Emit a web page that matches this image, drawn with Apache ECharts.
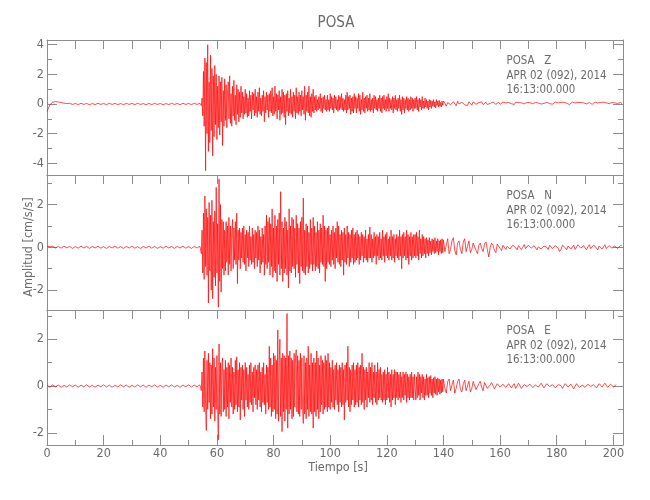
<!DOCTYPE html>
<html><head><meta charset="utf-8">
<script src="https://cdn.jsdelivr.net/npm/echarts@6/dist/echarts.min.js"></script>
<style>html,body{margin:0;padding:0;background:#fff}#c{width:650px;height:500px}</style>
</head><body><div id="c"></div>
<script>
// ---------- text ----------
const chartTitle = 'POSA';
const stationLabels = ['POSA   Z', 'POSA   N', 'POSA   E'];
const dateLabel = 'APR 02 (092), 2014';
const timeLabel = '16:13:00.000';
const xName = 'Tiempo [s]';
const yName = 'Amplitud [cm/s/s]';

// ---------- axes / ticks ----------
const xMax = 203.4;
const xTickMajor = [0, 20, 40, 60, 80, 100, 120, 140, 160, 180, 200];
const xTickMinor = [10, 30, 50, 70, 90, 110, 130, 150, 170, 190];
const xTickTop = [10, 20, 30, 40, 50, 60, 70, 80, 90, 100, 110, 120, 130, 140, 150, 160, 170, 180, 190, 200];
const yRangeZ = [-4.79, 4.32], yMajorZ = [-4, -2, 0, 2, 4], yMinorZ = [-3, -1, 1, 3];
const yRangeN = [-2.93, 3.38], yMajorN = [-2, 0, 2], yMinorN = [-1, 1, 3];
const yRangeE = [-2.52, 3.25], yMajorE = [-2, 0, 2], yMinorE = [-1, 1, 3];

// ---------- data (cm/s/s) ----------
// quiet part: one value per second from t = 0 s
const quietStart = 0, quietStep = 1;
// strong motion: one value per 0.25 s from t = 54 s
const denseStart = 54, denseStep = 0.25;
// coda: one value per 0.5 s from t = 140 s
const tailStart = 140, tailStep = 0.5;

const zQuiet = [-0.5,-0.05,0.12,0.16,0.14,0.1,0.06,0.03,0.05,-0.03,
 0.04,-0.04,0.05,-0.03,0.04,-0.05,0.03,-0.04,0.05,-0.03,
 0.04,-0.05,0.05,-0.03,0.04,-0.04,0.03,-0.05,0.05,-0.03,
 0.04,-0.04,0.05,-0.03,0.03,-0.05,0.04,-0.04,0.05,-0.03,
 0.04,-0.05,0.03,-0.04,0.05,-0.03,0.04,-0.05,0.05,-0.03,
 0.04,-0.04,0.05,-0.03];
const zDense = [
 0.05,0.02,-0.1,0.4,-0.8,2.2,-1.5,3.1,-4.5,2.8,-2.0,4.0,-3.2,1.5,-2.6,3.3,-1.8,2.4,-3.5,1.9,
 -2.2,2.6,-1.4,2.0,-2.4,1.2,-1.6,1.9,-2.1,1.5,-1.2,1.8,-2.8,0.9,-1.5,1.7,-1.1,1.3,-1.6,0.8,
 1.5,-1.0,1.9,-1.3,0.7,-1.5,1.2,-0.8,1.6,-1.1,0.6,-1.4,1.3,-0.7,1.0,-1.2,0.8,-0.9,1.2,-0.6,
 0.8,-1.0,0.5,-0.7,1.0,-0.6,0.7,-0.9,0.4,-0.8,0.9,-0.5,0.6,-1.0,0.8,-0.4,0.7,-0.8,1.0,-0.6,
 0.5,-0.9,0.8,-0.5,1.1,-0.7,0.4,-0.8,0.6,-0.5,0.9,-1.2,0.5,-0.6,0.8,-0.4,0.6,-0.9,0.7,-0.5,
 0.9,-0.6,1.1,-0.8,0.5,-0.7,1.2,-0.5,0.7,-1.0,0.6,-0.4,0.9,-1.1,0.5,-0.7,1.0,-0.6,0.8,-0.9,
 0.6,-1.4,0.7,-0.5,0.9,-0.8,0.4,-0.6,1.0,-0.7,0.5,-0.9,0.8,-0.5,0.6,-1.0,1.1,-0.6,0.5,-0.7,
 0.8,-0.5,0.6,-0.8,0.9,-0.4,0.5,-0.7,1.2,-1.1,0.6,-0.5,0.8,-0.6,1.2,-0.8,0.5,-0.9,0.7,-0.5,
 1.0,-0.6,0.5,-0.4,0.6,-0.5,0.3,-0.4,0.5,-0.3,0.7,-0.5,0.4,-0.6,0.5,-0.3,0.6,-0.4,0.3,-0.5,
 0.6,-0.4,0.3,-0.5,0.7,-0.3,0.5,-0.4,0.4,-0.6,0.6,-0.3,0.5,-0.4,0.3,-0.5,0.6,-0.4,0.5,-0.3,
 0.7,-0.4,0.4,-0.5,0.3,-0.4,0.6,-0.6,0.8,-0.4,0.5,-0.3,0.6,-0.7,0.4,-0.5,0.5,-0.6,0.7,-0.3,
 0.5,-0.6,0.4,-0.3,0.7,-0.5,0.6,-0.7,0.3,-0.4,0.8,-0.5,0.4,-0.6,0.5,-0.3,0.6,-0.5,0.4,-0.4,
 0.7,-0.5,0.3,-0.4,0.4,-0.6,0.6,-0.3,0.5,-0.4,0.3,-0.5,0.4,-0.3,0.6,-0.5,0.4,-0.6,0.5,-0.3,
 0.6,-0.4,0.3,-0.5,0.5,-0.3,0.7,-0.5,0.4,-0.3,0.3,-0.4,0.5,-0.6,0.4,-0.3,0.6,-0.4,0.3,-0.5,
 0.4,-0.3,0.6,-0.5,0.3,-0.7,0.5,-0.4,0.4,-0.6,0.3,-0.3,0.5,-0.4,0.4,-0.5,0.3,-0.4,0.5,-0.3,
 0.4,-0.5,0.3,-0.3,0.4,-0.3,0.5,-0.4,0.3,-0.5,0.4,-0.2,0.3,-0.4,0.5,-0.3,0.2,-0.3,0.4,-0.2,
 0.3,-0.3,0.2,-0.4,0.3,-0.2,0.25,-0.3,0.2,-0.15,0.3,-0.2,0.15,-0.25,0.3,-0.1,0.2,-0.2,0.25,-0.15,
 0.1,-0.2,0.2,-0.1];
const zTail = [
 0.2,0.05,-0.15,0.1,0.2,-0.05,-0.1,0.15,0.05,-0.12,0.18,0.0,-0.1,0.12,0.2,-0.05,0.08,-0.1,0.15,0.02,
 -0.08,0.14,0.18,-0.02,-0.06,0.1,0.02,0.15,-0.04,0.06,0.12,-0.03,0.1,0.04,-0.05,0.14,0.08,-0.02,0.1,0.12,
 -0.02,0.06,0.13,0.0,0.08,-0.04,0.1,0.14,0.02,0.05,-0.03,0.12,0.06,0.1,-0.02,0.08,0.13,0.01,0.06,0.1,
 -0.03,0.09,0.14,0.02,0.05,0.11,-0.02,0.07,0.12,0.0,0.1,0.04,-0.02,0.12,0.08,0.02,0.1,-0.01,0.06,0.13,
 0.03,0.08,-0.02,0.11,0.06,0.12,0.0,0.05,0.1,-0.03,0.09,0.13,0.02,0.07,0.0,0.11,0.05,0.1,-0.02,0.08,
 0.12,0.01,0.06,0.1,0.03,-0.02,0.09,0.13,0.04,0.07,0.0,0.1,0.06,0.12,-0.01,0.08,0.11,0.03,0.06,0.1,
 0.02,0.08,0.12,0.04,0.07,0.1,0.03];

const nQuiet = [0.06,0.02,0.05,-0.03,0.04,-0.04,0.05,-0.02,0.04,-0.05,
 0.03,-0.04,0.05,-0.03,0.04,-0.05,0.04,-0.03,0.05,-0.04,
 0.03,-0.05,0.04,-0.03,0.05,-0.04,0.03,-0.05,0.04,-0.03,
 0.05,-0.04,0.03,-0.05,0.04,-0.03,0.05,-0.04,0.04,-0.05,
 0.03,-0.04,0.05,-0.03,0.04,-0.05,0.04,-0.03,0.05,-0.04,
 0.03,-0.05,0.04,-0.03];
const nDense = [
 0.05,0.03,-0.3,0.8,-1.2,1.6,-1.5,2.4,-0.9,1.8,-1.3,1.4,-2.6,2.1,-1.1,1.5,-2.0,2.2,-2.4,1.2,
 -1.4,1.7,-1.8,2.8,-1.2,1.1,-2.8,3.2,-1.6,2.0,-2.1,1.3,-1.0,1.2,-1.3,0.8,-1.1,1.2,-0.7,1.0,
 -1.3,1.4,-0.8,1.0,-1.1,0.7,1.3,-1.0,0.9,-0.6,1.2,-0.8,1.6,-1.7,0.8,-0.6,0.9,-1.0,0.7,-0.5,
 0.9,-0.7,1.0,-0.8,0.6,-1.1,0.8,-0.5,0.7,-0.9,1.0,-0.6,0.5,-0.8,0.9,-0.7,0.6,-1.0,0.8,-0.5,
 0.7,-0.9,1.0,-0.6,0.8,-1.2,0.5,-0.8,0.9,-0.7,0.6,-1.3,1.0,-0.8,1.5,-1.0,1.2,-0.7,1.4,-1.3,
 1.1,-0.9,1.8,-1.4,0.9,-1.1,1.5,-1.2,1.0,-1.6,1.3,-0.8,1.6,-1.3,2.6,-1.0,1.2,-1.6,0.9,-1.2,
 1.4,-1.0,1.2,-1.3,0.8,-1.9,1.8,-1.1,1.0,-1.2,1.4,-0.9,1.3,-1.0,0.9,-1.4,1.5,-0.8,1.1,-1.2,
 0.9,-1.7,1.2,-0.9,1.4,-1.1,2.3,-1.2,0.8,-1.3,1.1,-0.9,1.0,-1.2,0.7,-1.0,1.3,-0.8,0.9,-1.1,
 1.4,-0.8,1.0,-1.1,0.7,-0.9,1.2,-1.0,0.8,-1.2,1.1,-0.7,0.9,-0.8,1.5,-0.9,1.0,-1.6,0.8,-1.0,
 0.9,-0.7,1.0,-0.8,0.6,-0.9,0.8,-0.6,1.0,-0.8,0.7,-1.0,0.9,-0.5,1.2,-0.7,1.0,-0.8,0.6,-0.9,
 0.8,-0.6,0.7,-1.3,0.9,-0.7,0.6,-0.8,1.0,-0.5,0.7,-0.9,0.6,-0.7,0.8,-0.5,0.9,-0.8,0.6,-0.7,
 0.7,-0.6,0.8,-0.5,0.6,-0.8,0.5,-0.6,0.7,-0.4,0.6,-0.7,0.5,-0.5,0.8,-0.6,0.4,-0.7,0.6,-0.5,
 0.95,-0.5,0.6,-0.7,0.4,-0.5,0.7,-0.4,0.5,-0.8,0.6,-0.4,0.5,-0.6,0.7,-0.5,0.4,-0.6,0.8,-0.4,
 0.5,-0.7,0.6,-0.4,0.7,-0.5,0.4,-0.6,0.5,-0.4,0.8,-0.6,0.5,-0.5,0.6,-0.7,0.4,-0.4,0.6,-0.5,
 0.5,-0.6,0.8,-0.4,0.5,-1.0,0.6,-0.5,0.7,-0.4,0.5,-0.6,0.8,-0.5,0.6,-0.8,0.5,-0.4,0.7,-0.6,
 0.5,-0.5,0.6,-0.4,0.6,-0.5,0.7,-0.4,0.5,-0.6,0.8,-0.3,0.4,-0.5,0.6,-0.4,0.5,-0.3,0.4,-0.5,
 0.45,-0.3,0.35,-0.4,0.45,-0.25,0.3,-0.35,0.4,-0.2,0.35,-0.3,0.45,-0.25,0.3,-0.2,0.4,-0.35,0.3,-0.2,
 0.35,-0.3,0.4,-0.25];
const nTail = [
 0.35,-0.2,0.1,0.4,-0.3,-0.1,0.3,0.45,-0.15,-0.35,0.2,0.3,-0.1,-0.3,0.25,0.4,-0.2,0.05,0.3,-0.25,
 -0.1,0.2,0.25,-0.15,-0.3,0.1,0.2,-0.05,-0.2,0.15,0.25,-0.1,-0.45,0.0,0.2,0.1,-0.15,-0.25,0.15,0.2,
 -0.05,-0.15,0.1,0.15,-0.1,0.05,0.12,-0.08,-0.15,0.1,0.14,-0.02,-0.12,0.08,0.12,-0.1,0.0,0.13,-0.06,-0.12,
 0.1,0.14,-0.04,-0.1,0.08,0.12,-0.12,0.02,0.1,-0.08,-0.14,0.06,0.12,0.0,-0.1,0.1,0.14,-0.06,-0.12,0.08,
 0.12,-0.04,-0.2,-0.1,0.1,0.14,-0.02,-0.12,0.06,0.12,-0.08,0.0,0.1,-0.1,-0.06,0.12,0.14,-0.04,-0.1,0.08,
 0.1,-0.12,0.02,0.12,-0.06,-0.1,0.1,0.14,-0.02,-0.12,0.06,0.1,-0.08,0.02,0.12,-0.06,-0.12,0.08,0.12,-0.04,
 -0.1,0.06,0.12,-0.06,-0.1,0.08,0.1];

const eQuiet = [0.03,-0.04,0.05,-0.03,0.04,-0.05,0.03,-0.04,0.05,-0.03,
 0.04,-0.05,0.04,-0.03,0.05,-0.04,0.03,-0.05,0.04,-0.03,
 0.05,-0.04,0.04,-0.05,0.03,-0.04,0.05,-0.03,0.04,-0.05,
 0.03,-0.04,0.05,-0.03,0.04,-0.05,0.04,-0.03,0.05,-0.04,
 0.03,-0.05,0.04,-0.03,0.05,-0.04,0.03,-0.05,0.04,-0.03,
 0.05,-0.04,0.04,-0.03];
const eDense = [
 0.05,0.02,-0.2,0.6,-0.9,1.2,-1.1,1.5,-0.8,-1.9,1.1,-1.0,1.4,-0.7,1.0,-1.4,0.9,-1.2,1.6,-0.9,
 1.2,-1.5,0.8,-1.0,1.3,-0.9,-2.3,1.8,-1.2,1.0,-1.3,0.9,1.2,-1.1,0.7,-1.0,1.1,-1.3,0.8,-0.9,
 1.0,-1.4,0.9,-0.7,1.2,-0.9,0.8,-1.2,0.6,-1.0,1.1,-0.8,1.25,-1.1,0.7,-0.9,1.0,-1.45,0.8,-0.6,
 0.9,-1.0,0.7,-1.3,1.0,-0.6,0.8,-0.9,0.5,-1.0,0.9,-0.7,1.0,-0.8,0.6,-1.1,0.8,-0.5,0.9,-0.8,
 0.7,-1.0,0.9,-0.6,1.0,-0.9,0.6,-1.1,0.8,-0.7,1.0,-0.8,0.5,-1.2,0.9,-0.7,0.8,-1.0,1.7,-0.9,
 1.2,-1.3,0.9,-1.1,1.4,-1.0,1.3,-1.4,1.1,-1.2,2.4,-1.5,1.0,2.0,-1.3,1.2,-1.95,1.4,-1.1,1.3,
 -1.5,1.2,-1.0,3.1,-1.8,1.3,-1.2,1.5,-1.0,1.2,-1.4,1.1,-1.3,1.4,-0.9,1.2,1.55,-1.1,1.3,-1.2,
 1.1,-1.3,1.4,-1.0,1.2,-0.9,-1.6,1.3,-1.2,1.0,-1.4,1.2,-1.0,1.7,-1.3,0.9,-1.1,1.4,-1.2,1.0,
 -1.8,1.2,-1.1,1.0,-1.3,1.5,-1.0,1.2,-1.4,0.9,-1.1,1.3,-0.8,1.1,-1.2,1.0,-1.0,1.3,-0.9,1.1,
 -1.1,1.4,-0.9,1.0,-1.0,0.8,-0.7,1.1,-0.9,0.7,-1.0,0.9,-0.6,1.0,-0.8,0.7,-1.1,0.9,-0.7,0.8,
 -0.9,1.0,-0.8,0.7,-1.45,0.9,-0.7,1.0,-0.6,1.7,-0.9,0.8,-1.1,0.7,-0.8,0.9,-0.6,1.0,-0.9,0.7,
 -0.8,0.9,-0.7,1.0,-0.9,0.8,-0.6,0.9,-0.8,1.4,-0.7,0.8,-1.0,0.7,-0.6,0.8,-0.9,0.6,-0.5,1.0,
 -0.7,0.8,-0.6,1.0,-0.8,0.6,-0.5,0.9,-0.7,0.6,-0.8,1.0,-0.6,0.7,-0.5,0.8,-0.6,0.5,-0.7,0.6,
 -0.6,0.7,-0.8,0.5,-0.6,0.8,-0.5,0.6,-0.7,0.5,-0.9,0.7,-0.6,0.5,-0.5,0.7,-0.8,0.6,-0.5,0.6,
 -0.6,0.5,-0.5,0.6,-0.7,0.4,-0.5,0.6,-0.6,0.5,-0.4,0.6,-0.7,0.5,-0.5,0.4,-0.6,0.5,-0.5,0.6,
 -0.5,0.4,-0.6,0.5,0.5,-0.6,0.4,-0.5,0.6,-0.4,0.5,-0.6,0.4,-0.3,0.5,-0.5,0.4,-0.6,0.3,-0.4,
 0.5,-0.4,0.35,-0.5,0.4,-0.3,0.45,-0.4,0.3,-0.5,0.35,-0.3,0.4,-0.35,0.3,-0.4,0.35,-0.25,0.3,-0.35,
 0.25,-0.3,0.3,-0.25];
const eTail = [
 0.3,-0.1,-0.3,0.2,0.3,-0.2,0.05,0.25,-0.3,-0.1,0.2,0.3,-0.15,-0.25,0.1,0.25,-0.2,0.0,0.2,-0.25,
 -0.1,0.2,0.25,-0.15,-0.2,0.1,0.2,-0.05,-0.2,0.15,0.18,-0.1,-0.15,0.05,0.15,0.1,-0.12,-0.15,0.1,0.15,
 -0.05,-0.12,0.08,0.14,-0.06,-0.1,0.1,0.12,-0.08,0.0,0.1,-0.1,-0.06,0.12,0.08,-0.1,-0.12,0.06,0.12,-0.02,
 -0.1,0.08,0.12,-0.06,-0.12,0.04,0.1,-0.04,-0.1,0.12,0.06,-0.08,-0.12,0.1,0.12,-0.02,-0.1,0.06,0.1,-0.08,
 -0.12,0.06,0.12,0.02,-0.1,-0.06,0.1,0.12,-0.04,-0.1,0.08,0.1,-0.12,-0.04,0.1,0.12,-0.06,-0.1,0.04,0.1,
 -0.06,-0.12,0.08,0.12,-0.02,-0.1,0.06,0.1,-0.08,-0.12,0.1,0.06,-0.04,-0.1,0.12,0.08,-0.06,-0.1,0.08,0.1,
 -0.04,-0.08,0.06];

// ---------- build ----------
function seg(vals, start, step) { return vals.map((v, i) => [start + i * step, v]); }
function trace(q, d, t) {
  return seg(q, quietStart, quietStep).concat(seg(d, denseStart, denseStep), seg(t, tailStart, tailStep));
}
const traces = [trace(zQuiet, zDense, zTail), trace(nQuiet, nDense, nTail), trace(eQuiet, eDense, eTail)];
const yRanges = [yRangeZ, yRangeN, yRangeE];
const yMajors = [yMajorZ, yMajorN, yMajorE];
const yMinors = [yMinorZ, yMinorN, yMinorE];

const FF = "'DejaVu Sans Condensed','DejaVu Sans',sans-serif";
const AX = '#8c8c8c';
const TX = '#6a6a6a';
const gridTops = [40, 175, 310];
const gridH = 135, gridL = 47, gridR = 27;

const grids = [], xAxes = [], yAxes = [], series = [];
gridTops.forEach((top, g) => {
  grids.push({left: gridL, right: gridR, top: top, height: gridH, containLabel: false});
  const last = g === gridTops.length - 1;
  const xIdx = xAxes.length;
  const xb = {type: 'value', gridIndex: g, min: 0, max: xMax, splitLine: {show: false}};
  xAxes.push(Object.assign({}, xb, {position: 'bottom',
    axisLine: {show: true, onZero: false, lineStyle: {color: AX, width: 1}},
    axisTick: {show: last, inside: true, length: 10, customValues: xTickMajor, lineStyle: {color: AX}},
    axisLabel: {show: last, customValues: xTickMajor, color: TX, fontFamily: FF, fontSize: 12.5, margin: 2}}));
  xAxes.push(Object.assign({}, xb, {position: 'bottom',
    axisLine: {show: false, onZero: false},
    axisTick: {show: last, inside: true, length: 5, customValues: xTickMinor, lineStyle: {color: AX}},
    axisLabel: {show: false}}));
  xAxes.push(Object.assign({}, xb, {position: 'top',
    axisLine: {show: true, onZero: false, lineStyle: {color: AX, width: 1}},
    axisTick: {show: true, inside: true, length: 9, customValues: xTickTop, lineStyle: {color: AX}},
    axisLabel: {show: false}}));
  const yIdx = yAxes.length;
  const yb = {type: 'value', gridIndex: g, min: yRanges[g][0], max: yRanges[g][1], splitLine: {show: false}};
  yAxes.push(Object.assign({}, yb, {position: 'left',
    axisLine: {show: true, onZero: false, lineStyle: {color: AX, width: 1}},
    axisTick: {show: true, inside: true, length: 10, customValues: yMajors[g], lineStyle: {color: AX}},
    axisLabel: {show: true, customValues: yMajors[g], color: TX, fontFamily: FF, fontSize: 12.5, margin: 3}}));
  yAxes.push(Object.assign({}, yb, {position: 'left', axisLine: {show: false, onZero: false},
    axisTick: {show: true, inside: true, length: 5, customValues: yMinors[g], lineStyle: {color: AX}},
    axisLabel: {show: false}}));
  yAxes.push(Object.assign({}, yb, {position: 'right',
    axisLine: {show: true, onZero: false, lineStyle: {color: AX, width: 1}},
    axisTick: {show: true, inside: true, length: 10, customValues: yMajors[g], lineStyle: {color: AX}},
    axisLabel: {show: false}}));
  yAxes.push(Object.assign({}, yb, {position: 'right', axisLine: {show: false, onZero: false},
    axisTick: {show: true, inside: true, length: 5, customValues: yMinors[g], lineStyle: {color: AX}},
    axisLabel: {show: false}}));
  series.push({type: 'line', xAxisIndex: xIdx, yAxisIndex: yIdx, data: traces[g],
    showSymbol: false, symbol: 'none', sampling: null, smooth: false,
    lineStyle: {color: '#ff0000', width: 0.7}, emphasis: {disabled: true}, silent: true, z: 1});
});

const graphics = [
  {type: 'text', x: 336, y: 23, style: {text: chartTitle, fill: TX, font: '15px ' + FF, align: 'center', verticalAlign: 'middle'}},
  {type: 'text', x: 338, y: 468, style: {text: xName, fill: TX, font: '12.5px ' + FF, align: 'center', verticalAlign: 'middle'}},
  {type: 'text', x: 29, y: 247, rotation: Math.PI / 2, style: {text: yName, fill: TX, font: '12.5px ' + FF, align: 'center', verticalAlign: 'middle'}}
];
gridTops.forEach((top, g) => {
  [stationLabels[g], dateLabel, timeLabel].forEach((t, k) => {
    graphics.push({type: 'text', x: 506.5, y: top + 21.3 + k * 14.4, scaleX: 0.95,
      style: {text: t, fill: TX, font: '12px ' + FF, align: 'left', verticalAlign: 'middle'}});
  });
});

const chart = echarts.init(document.getElementById('c'), null, {renderer: 'canvas'});
chart.setOption({
  animation: false,
  backgroundColor: '#ffffff',
  grid: grids, xAxis: xAxes, yAxis: yAxes, series: series, graphic: graphics
});
</script></body></html>
